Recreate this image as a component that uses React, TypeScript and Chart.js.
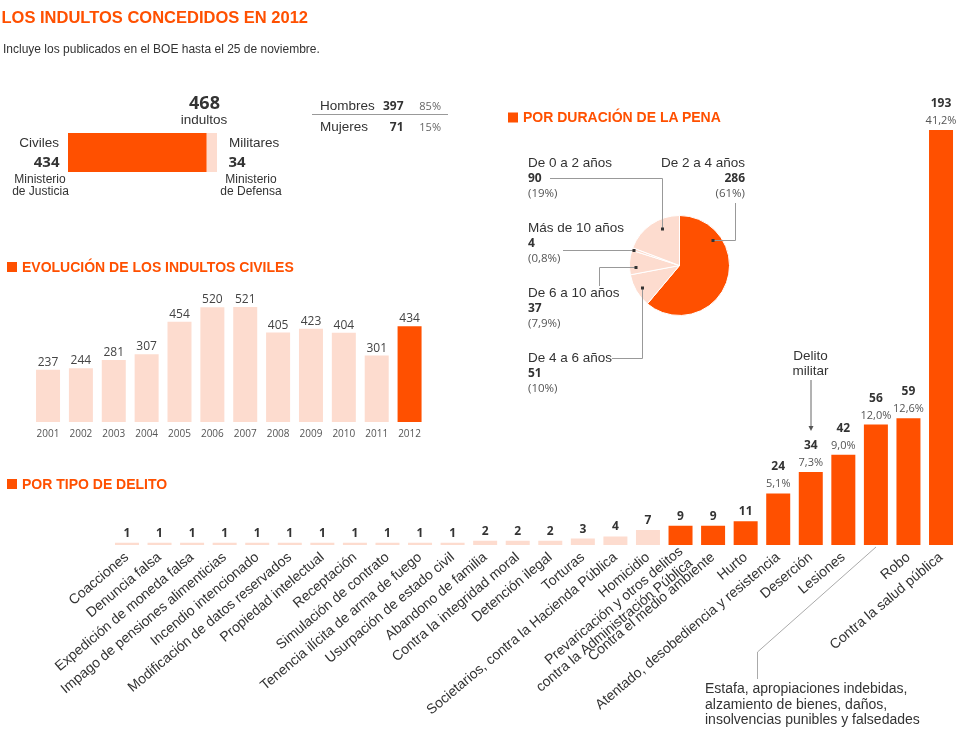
import React, { useEffect, useRef } from 'react';
import { Chart, registerables } from 'chart.js';

Chart.register(...registerables);

// ---------- DATA ----------
const totalLabels = ['Civiles', 'Militares'];
const totalValues = [434, 34];

const genderLabels = ['Hombres', 'Mujeres'];
const genderValues = [397, 71];
const genderPct = ['85%', '15%'];

const evoYears = ['2001', '2002', '2003', '2004', '2005', '2006', '2007', '2008', '2009', '2010', '2011', '2012'];
const evoValues = [237, 244, 281, 307, 454, 520, 521, 405, 423, 404, 301, 434];

const penaLabels = ['De 2 a 4 años', 'De 4 a 6 años', 'De 6 a 10 años', 'Más de 10 años', 'De 0 a 2 años'];
const penaValues = [286, 51, 37, 4, 90];
const penaPct = ['(61%)', '(10%)', '(7,9%)', '(0,8%)', '(19%)'];

const delitoLabels: (string | string[])[] = [
  'Coacciones',
  'Denuncia falsa',
  'Expedición de moneda falsa',
  'Impago de pensiones alimenticias',
  'Incendio intencionado',
  'Modificación de datos reservados',
  'Propiedad intelectual',
  'Receptación',
  'Simulación de contrato',
  'Tenencia ilícita de arma de fuego',
  'Usurpación de estado civil',
  'Abandono de familia',
  'Contra la integridad moral',
  'Detención ilegal',
  'Torturas',
  'Societarios, contra la Hacienda Pública',
  'Homicidio',
  ['Prevaricación y otros delitos', 'contra la Administración Pública'],
  'Contra el medio ambiente',
  'Hurto',
  'Atentado, desobediencia y resistencia',
  'Deserción',
  'Lesiones',
  '',
  'Robo',
  'Contra la salud pública',
];
const delitoValues = [1, 1, 1, 1, 1, 1, 1, 1, 1, 1, 1, 2, 2, 2, 3, 4, 7, 9, 9, 11, 24, 34, 42, 56, 59, 193];
const delitoPct = ['', '', '', '', '', '', '', '', '', '', '', '', '', '', '', '', '', '', '', '', '5,1%', '7,3%', '9,0%', '12,0%', '12,6%', '41,2%'];
const delitoHighlighted = [false, false, false, false, false, false, false, false, false, false, false, false, false, false, false, false, false, true, true, true, true, true, true, true, true, true];
const estafaNote = ['Estafa, apropiaciones indebidas,', 'alzamiento de bienes, daños,', 'insolvencias punibles y falsedades'];
const militarNote = ['Delito', 'militar'];

// ---------- STYLE ----------
const ORANGE = '#FF5000';
const LIGHT = '#FDDCCF';
const DARK = '#333333';
const GREY = '#555555';
const SANS = '"Liberation Sans", Arial, sans-serif';
const NUM = '"Open Sans", "Liberation Sans", sans-serif';
const TICK_SIZE = 14;
const TICK_PAD = 4;
const TICK_ROT = 40;
const MULTI_LINE_H = 15;

// pie annotation layout (label anchor, leader polyline, dot)
const penaLayout = [
  { x: 745, y: 166.7, anchor: 'end', line: [[735.5, 203], [735.5, 240.5], [713, 240.5]], dot: [713, 240.5] },
  { x: 528, y: 361.7, anchor: 'start', line: [[612, 358.5], [642.5, 358.5], [642.5, 288]], dot: [642.5, 288] },
  { x: 528, y: 296.7, anchor: 'start', line: [[599.5, 286], [599.5, 267.5], [636, 267.5]], dot: [636, 267.5] },
  { x: 528, y: 231.7, anchor: 'start', line: [[563, 250.5], [634, 250.5]], dot: [634, 250.5] },
  { x: 528, y: 166.7, anchor: 'start', line: [[550, 178.5], [662.5, 178.5], [662.5, 229]], dot: [662.5, 229] },
];

type TSpec = { x: number; y: number; t: string; size: number; bold?: boolean; anchor?: string; color?: string; fam?: string };

function useChart(ref: React.RefObject<HTMLCanvasElement | null>, make: (c: HTMLCanvasElement) => Chart) {
  useEffect(() => {
    if (!ref.current) return;
    const ch = make(ref.current);
    return () => ch.destroy();
  }, []);
}

export default function App() {
  const totalRef = useRef<HTMLCanvasElement>(null);
  const evoRef = useRef<HTMLCanvasElement>(null);
  const pieRef = useRef<HTMLCanvasElement>(null);
  const delRef = useRef<HTMLCanvasElement>(null);

  useChart(totalRef, (c) =>
    new Chart(c, {
      type: 'bar',
      data: {
        labels: ['Total'],
        datasets: [
          { label: totalLabels[0], data: [totalValues[0]], backgroundColor: ORANGE, barPercentage: 1, categoryPercentage: 1, borderWidth: 0 },
          { label: totalLabels[1], data: [totalValues[1]], backgroundColor: LIGHT, barPercentage: 1, categoryPercentage: 1, borderWidth: 0 },
        ],
      },
      options: {
        indexAxis: 'y',
        animation: false,
        responsive: false,
        layout: { padding: 0 },
        plugins: { legend: { display: false }, tooltip: { enabled: false } },
        scales: {
          x: { display: false, stacked: true, min: 0, max: totalValues[0] + totalValues[1] },
          y: { display: false, stacked: true },
        },
      },
    })
  );

  useChart(evoRef, (c) =>
    new Chart(c, {
      type: 'bar',
      data: {
        labels: evoYears,
        datasets: [
          {
            data: evoValues,
            backgroundColor: evoValues.map((_, i) => (i === evoValues.length - 1 ? ORANGE : LIGHT)),
            barPercentage: 0.73,
            categoryPercentage: 1,
            borderWidth: 0,
          },
        ],
      },
      options: {
        animation: false,
        responsive: false,
        layout: { padding: { left: 31.6, right: 14, top: 27, bottom: 0 } },
        plugins: { legend: { display: false }, tooltip: { enabled: false } },
        scales: {
          x: {
            grid: { display: false, drawTicks: false },
            border: { display: false },
            ticks: { color: GREY, padding: 6, minRotation: 0, maxRotation: 0, autoSkip: false, font: { family: NUM, size: 10 } },
            afterFit: (s: any) => {
              s.height = 23;
            },
          },
          y: { display: false, min: 0, max: 521 },
        },
      },
      plugins: [
        {
          id: 'evoLabels',
          afterDatasetsDraw(chart: any) {
            const ctx = chart.ctx;
            const meta = chart.getDatasetMeta(0);
            ctx.save();
            ctx.textAlign = 'center';
            ctx.textBaseline = 'alphabetic';
            ctx.font = `12px ${NUM}`;
            ctx.fillStyle = '#444';
            meta.data.forEach((bar: any, i: number) => {
              ctx.fillText(String(evoValues[i]), bar.x, bar.y - 4);
            });
            ctx.restore();
          },
        },
      ],
    })
  );

  useChart(pieRef, (c) =>
    new Chart(c, {
      type: 'pie',
      data: {
        labels: penaLabels,
        datasets: [
          {
            data: penaValues,
            backgroundColor: penaValues.map((_, i) => (i === 0 ? ORANGE : LIGHT)),
            borderColor: '#ffffff',
            borderWidth: 1,
          },
        ],
      },
      options: {
        animation: false,
        responsive: false,
        layout: { padding: 0 },
        plugins: { legend: { display: false }, tooltip: { enabled: false } },
      },
    })
  );

  useChart(delRef, (c) =>
    new Chart(c, {
      type: 'bar',
      data: {
        labels: delitoLabels,
        datasets: [
          {
            data: delitoValues,
            backgroundColor: delitoHighlighted.map((h) => (h ? ORANGE : LIGHT)),
            barPercentage: 0.737,
            categoryPercentage: 1,
            borderWidth: 0,
          },
        ],
      },
      options: {
        animation: false,
        responsive: false,
        layout: { padding: { left: 110.7, right: 22.7, top: 40, bottom: 0 } },
        plugins: { legend: { display: false }, tooltip: { enabled: false } },
        scales: {
          x: {
            grid: { display: false, drawTicks: false },
            border: { display: false },
            ticks: {
              color: DARK,
              padding: TICK_PAD,
              minRotation: TICK_ROT,
              maxRotation: TICK_ROT,
              autoSkip: false,
              font: { family: SANS, size: TICK_SIZE },
              // multi-line labels are drawn by the plugin below (centered block)
              callback: (_v: any, i: number) => (Array.isArray(delitoLabels[i]) ? '' : delitoLabels[i]),
            },
            afterFit: (s: any) => {
              s.height = 192;
            },
          },
          y: { display: false, min: 0, max: 193 },
        },
      },
      plugins: [
        {
          id: 'delLabels',
          afterDatasetsDraw(chart: any) {
            const ctx = chart.ctx;
            const meta = chart.getDatasetMeta(0);
            ctx.save();
            ctx.textAlign = 'center';
            ctx.textBaseline = 'alphabetic';
            meta.data.forEach((bar: any, i: number) => {
              let y = bar.y - 6;
              if (delitoPct[i]) {
                ctx.font = `11px ${NUM}`;
                ctx.fillStyle = GREY;
                ctx.fillText(delitoPct[i], bar.x, y);
                y -= 17;
              }
              ctx.font = `bold 12px ${NUM}`;
              ctx.fillStyle = DARK;
              ctx.fillText(String(delitoValues[i]), bar.x, y);
            });
            ctx.restore();
          },
          afterDraw(chart: any) {
            const ctx = chart.ctx;
            const xs = chart.scales.x;
            ctx.save();
            ctx.font = `${TICK_SIZE}px ${SANS}`;
            ctx.fillStyle = DARK;
            ctx.textAlign = 'right';
            ctx.textBaseline = 'middle';
            delitoLabels.forEach((lab, i) => {
              if (!Array.isArray(lab)) return;
              const x = xs.getPixelForTick(i);
              const y = xs.top + TICK_PAD;
              const center = (TICK_SIZE * 1.2) / 2;
              ctx.save();
              ctx.translate(x, y);
              ctx.rotate((-TICK_ROT * Math.PI) / 180);
              const n = lab.length;
              lab.forEach((line, k) => {
                ctx.fillText(line, 0, center + (k - (n - 1) / 2) * MULTI_LINE_H);
              });
              ctx.restore();
            });
            ctx.restore();
          },
        },
      ],
    })
  );

  const total = totalValues[0] + totalValues[1];

  const texts: TSpec[] = [
    { x: 1.5, y: 23, t: 'LOS INDULTOS CONCEDIDOS EN 2012', size: 16.5, bold: true, color: ORANGE },
    { x: 3, y: 53, t: 'Incluye los publicados en el BOE hasta el 25 de noviembre.', size: 12 },
    // summary
    { x: 204.5, y: 109, t: String(total), size: 18, bold: true, anchor: 'middle', fam: NUM },
    { x: 204, y: 124, t: 'indultos', size: 13.5, anchor: 'middle' },
    { x: 59, y: 146.7, t: totalLabels[0], size: 13.5, anchor: 'end' },
    { x: 59.5, y: 167, t: String(totalValues[0]), size: 15, bold: true, anchor: 'end', fam: NUM },
    { x: 40, y: 183.3, t: 'Ministerio', size: 12, anchor: 'middle' },
    { x: 40.5, y: 194.5, t: 'de Justicia', size: 12, anchor: 'middle' },
    { x: 229, y: 146.7, t: totalLabels[1], size: 13.5 },
    { x: 228.5, y: 167, t: String(totalValues[1]), size: 15, bold: true, fam: NUM },
    { x: 251, y: 183.3, t: 'Ministerio', size: 12, anchor: 'middle' },
    { x: 251, y: 194.5, t: 'de Defensa', size: 12, anchor: 'middle' },
    // gender table
    { x: 320, y: 110, t: genderLabels[0], size: 13.5 },
    { x: 403.5, y: 110, t: String(genderValues[0]), size: 12, bold: true, anchor: 'end', fam: NUM },
    { x: 441, y: 110, t: genderPct[0], size: 11, anchor: 'end', fam: NUM, color: '#666' },
    { x: 320, y: 130.5, t: genderLabels[1], size: 13.5 },
    { x: 403.5, y: 130.5, t: String(genderValues[1]), size: 12, bold: true, anchor: 'end', fam: NUM },
    { x: 441, y: 130.5, t: genderPct[1], size: 11, anchor: 'end', fam: NUM, color: '#666' },
    // headings
    { x: 22, y: 271.7, t: 'EVOLUCIÓN DE LOS INDULTOS CIVILES', size: 14, bold: true, color: ORANGE },
    { x: 523, y: 122.3, t: 'POR DURACIÓN DE LA PENA', size: 14, bold: true, color: ORANGE },
    { x: 22, y: 489, t: 'POR TIPO DE DELITO', size: 14, bold: true, color: ORANGE },
    // delito militar
    { x: 810.5, y: 360, t: militarNote[0], size: 13.5, anchor: 'middle' },
    { x: 810.5, y: 375, t: militarNote[1], size: 13.5, anchor: 'middle' },
  ];
  estafaNote.forEach((s, i) => texts.push({ x: 705, y: 693.3 + i * 15.5, t: s, size: 14 }));
  penaLabels.forEach((s, i) => {
    const L = penaLayout[i];
    texts.push({ x: L.x, y: L.y, t: s, size: 13.5, anchor: L.anchor });
    texts.push({ x: L.x, y: L.y + 15.6, t: String(penaValues[i]), size: 12, bold: true, anchor: L.anchor, fam: NUM });
    texts.push({ x: L.x, y: L.y + 30.5, t: penaPct[i], size: 11.5, anchor: L.anchor, fam: NUM, color: GREY });
  });

  const abs = (l: number, t: number, w: number, h: number): React.CSSProperties => ({
    position: 'absolute',
    left: l,
    top: t,
    width: w,
    height: h,
    display: 'block',
  });

  return (
    <div style={{ position: 'relative', width: 980, height: 737, overflow: 'hidden', background: '#fff' }}>
      <style>{'body{margin:0;}'}</style>
      <canvas ref={delRef} width={980} height={647} style={abs(0, 90, 980, 647)} />
      <canvas ref={evoRef} width={440} height={165} style={abs(0, 280, 440, 165)} />
      <canvas ref={pieRef} width={101} height={101} style={abs(629, 215, 101, 101)} />
      <canvas ref={totalRef} width={149} height={39} style={abs(68, 133, 149, 39)} />
      <svg width={980} height={737} style={{ position: 'absolute', left: 0, top: 0, pointerEvents: 'none' }}>
        <rect x={7} y={262} width={10} height={10} fill={ORANGE} />
        <rect x={508} y={112.5} width={10} height={10} fill={ORANGE} />
        <rect x={7} y={479} width={10} height={10} fill={ORANGE} />
        <line x1={312} y1={114.5} x2={448} y2={114.5} stroke="#999" strokeWidth={1} />
        {penaLayout.map((L, i) => (
          <g key={'pl' + i}>
            <polyline points={L.line.map((p) => p.join(',')).join(' ')} fill="none" stroke="#999" strokeWidth={1} />
            <rect x={L.dot[0] - 1.5} y={L.dot[1] - 1.5} width={3} height={3} fill="#333" />
          </g>
        ))}
        <polyline points="876,547 757.5,652 757.5,679" fill="none" stroke="#aaa" strokeWidth={1} />
        <line x1={811} y1={380} x2={811} y2={427} stroke="#666" strokeWidth={1} />
        <polygon points="808.5,426 813.5,426 811,431" fill="#555" />
        {texts.map((s, i) => (
          <text
            key={i}
            x={s.x}
            y={s.y}
            textAnchor={(s.anchor as any) || 'start'}
            style={{
              fontFamily: s.fam || SANS,
              fontSize: s.size,
              fontWeight: s.bold ? 700 : 400,
              fill: s.color || DARK,
            }}
          >
            {s.t}
          </text>
        ))}
      </svg>
    </div>
  );
}
